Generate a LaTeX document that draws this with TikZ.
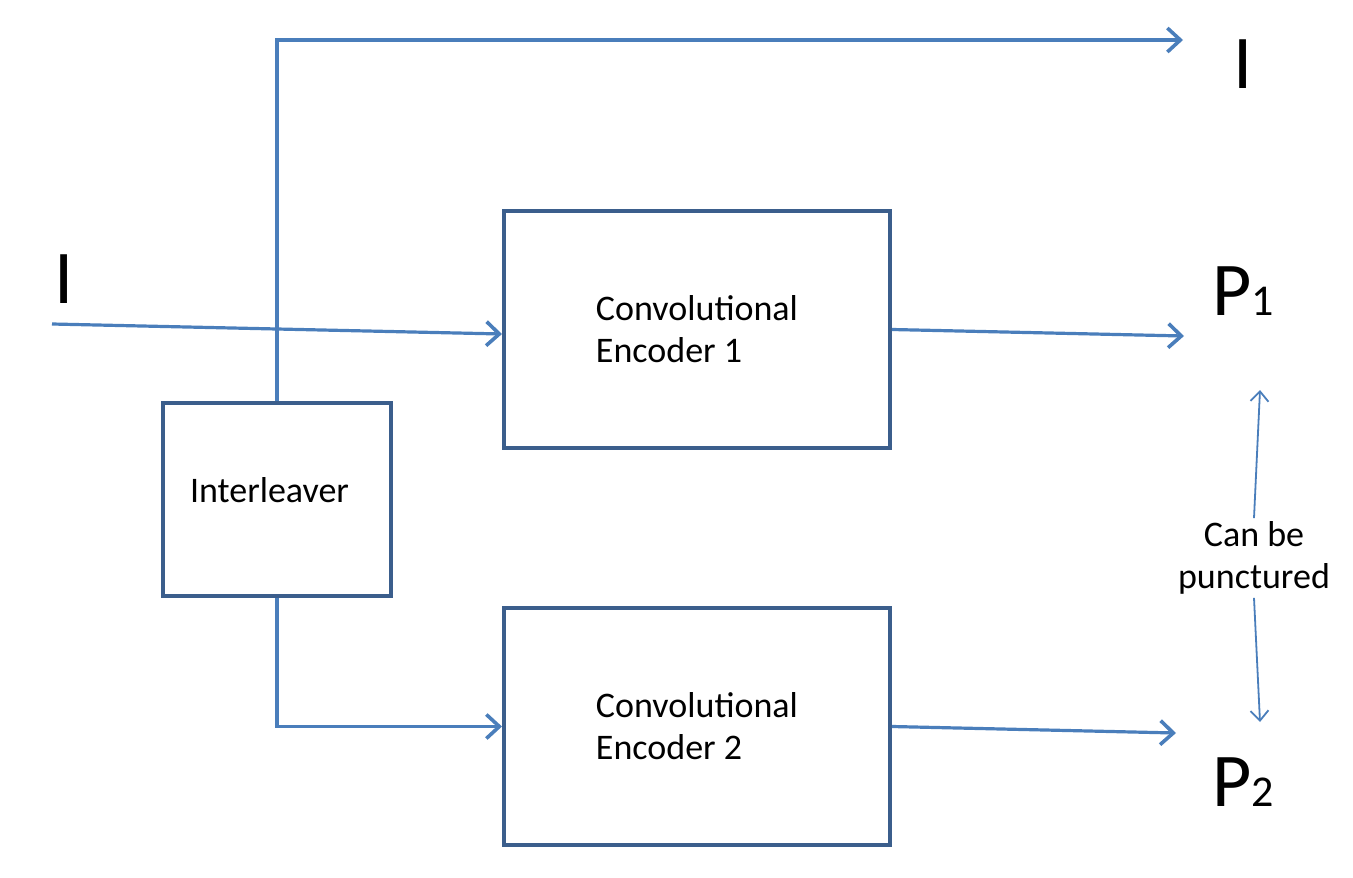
\documentclass[tikz,border=0pt]{standalone}
\usepackage{fontspec}
\setmainfont{Carlito}
\usetikzlibrary{arrows.meta,positioning}
\definecolor{boxblue}{HTML}{3B5E8C}
\definecolor{lineblue}{HTML}{4A7EBB}
\begin{document}
\begin{tikzpicture}[x=1pt,y=-1pt,
    block/.style={draw=boxblue,line width=4pt,minimum width=386pt,minimum height=237pt,align=left,font=\fontsize{36}{42}\selectfont},
    sig/.style={draw=lineblue,line width=3.2pt,-{Straight Barb[length=13pt,width=24pt,line width=3.6pt]}},
    puncarrow/.style={draw=lineblue,line width=1.8pt,-{Straight Barb[length=10pt,width=18pt,line width=1.8pt]}},
    big/.style={font=\fontsize{76}{76}\selectfont,inner sep=0pt}]
  \useasboundingbox (0,0) rectangle (1353,878);
  \node[block] (enc1) at (697,329.5) {Convolutional\\Encoder 1};
  \node[block] (enc2) at (697,726.5) {Convolutional\\Encoder 2};
  \node[block,minimum width=228pt,minimum height=193pt] (intl) at (277,499.5) {};
  \node[font=\fontsize{36}{42}\selectfont] (intltxt) at (269.5,490) {Interleaver};
  \node[big,anchor=base] (iin) at (64,303) {I};
  \node[big,anchor=base] (iout) at (1243,88) {I};
  \node[big,anchor=base west] (p1) at (1212,315) {P\fontsize{44}{44}\selectfont 1};
  \node[big,anchor=base west] (p2) at (1212,806) {P\fontsize{44}{44}\selectfont 2};
  \node[align=center,font=\fontsize{36}{42}\selectfont] (punct) at (1254,558) {Can be\\punctured};
  \coordinate (src) at (52,324);
  \coordinate (itip) at (1183,40);
  \coordinate (p1tip) at (1184,336);
  \coordinate (p2tip) at (1176,733);
  \coordinate (pu1) at (1260,390);
  \coordinate (pu2) at (1260,722);
  \draw[sig] (src) -- ([yshift=-4.5pt]enc1.west);
  \draw[sig] (intl.north) |- (itip);
  \draw[sig] (intl.south) |- (enc2.west);
  \draw[sig] (enc1.east) -- (p1tip);
  \draw[sig] (enc2.east) -- (p2tip);
  \draw[puncarrow] (punct.north) -- (pu1);
  \draw[puncarrow] (punct.south) -- (pu2);
\end{tikzpicture}
\end{document}
